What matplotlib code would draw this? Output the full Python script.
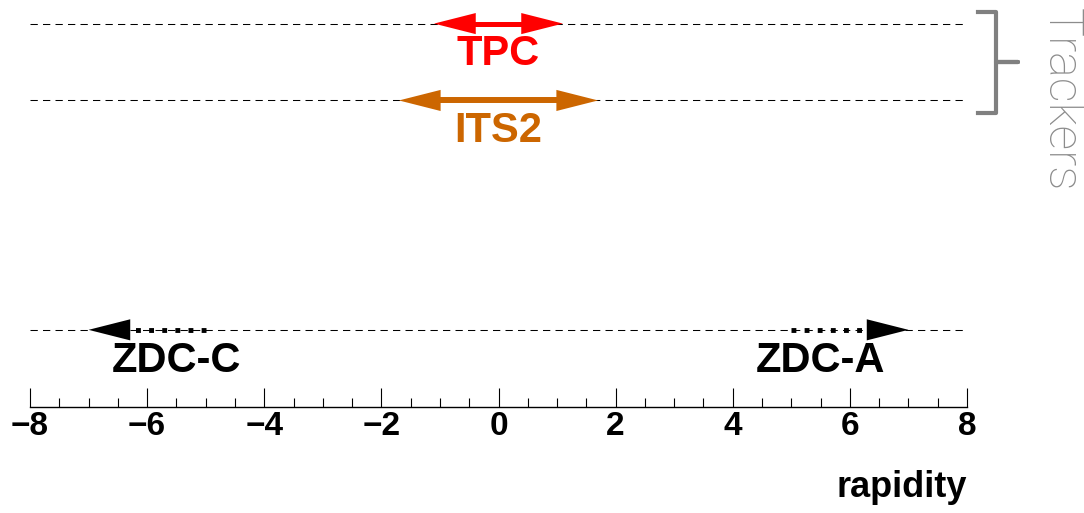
import numpy as np
import matplotlib
matplotlib.use('Agg')
import matplotlib.pyplot as plt
from matplotlib.ticker import MultipleLocator

plt.rcParams['font.family'] = ['Liberation Sans', 'DejaVu Sans']
plt.rcParams['font.weight'] = 'bold'

# rapidity coverage of each detector (ZDC: inner end -> outer tip)
detectors = ['TPC', 'ITS2', 'ZDC-C', 'ZDC-A']
eta_start = [-1.1, -1.7, -5.0, 5.0]
eta_end = [1.1, 1.7, -7.0, 7.0]
two_sided = [True, True, False, False]
label_pos = [0.0, 0.0, -5.5, 5.5]
colors = ['#ff0000', '#cc6600', 'black', 'black']
shaft_lw = [3.6, 4.3, 3.5, 3.5]

# vertical level of each row (axes fraction above the rapidity axis)
row_y = [0.942, 0.753, 0.189, 0.189]

head_len, head_w = 30, 7.6   # points

fig = plt.figure(figsize=(10.84, 5.13), dpi=100)
ax = fig.add_axes([30/1084, 106.3/513, 937/1084, 406.7/513])
ax.set_xlim(-8, 8)
ax.set_ylim(0, 1)
ax.patch.set_visible(False)
for s in ['left', 'right', 'top']:
    ax.spines[s].set_visible(False)
ax.spines['bottom'].set_linewidth(1.0)
ax.set_yticks([])
ax.xaxis.set_major_locator(MultipleLocator(2))
ax.xaxis.set_minor_locator(MultipleLocator(0.5))
ax.tick_params(axis='x', which='major', direction='in', length=13.7, width=0.8,
               labelsize=24, pad=3)
ax.tick_params(axis='x', which='minor', direction='in', length=6.8, width=0.8)

# dashed guide lines
for y in sorted(set(row_y)):
    ax.plot([-8, 8], [y, y], color='black', lw=0.75, ls=(0, (7, 5)), zorder=1)

units_per_pt = 16 / (ax.get_position().width * fig.get_figwidth() * 72)
hl = head_len * units_per_pt

for name, a, b, both, lx, c, lw, y in zip(detectors, eta_start, eta_end, two_sided,
                                           label_pos, colors, shaft_lw, row_y):
    d = np.sign(b - a)
    style = '<|-|>' if both else '-|>'
    # filled heads only, the shaft is drawn separately
    ax.annotate('', xy=(b, y), xytext=(a, y),
                arrowprops=dict(arrowstyle=f'{style},head_length={head_len},head_width={head_w}',
                                mutation_scale=1, lw=0, color=c,
                                shrinkA=0, shrinkB=0), zorder=4)
    if both:
        ax.plot([a + 0.7 * hl * d, b - 0.7 * hl * d], [y, y], color=c, lw=lw,
                solid_capstyle='butt', zorder=3)
    else:
        ax.plot([a, b - hl * d], [y, y], color=c, lw=lw, ls=(0, (1, 1.7)),
                dash_capstyle='butt', zorder=3)
    ax.annotate(name, xy=(lx, y), xytext=(0, -30), textcoords='offset points',
                ha='center', va='baseline', fontsize=30, color=c, fontweight='bold')

# brace grouping the tracking detectors
top, bot = row_y[0] + 0.029, row_y[1] - 0.031
mid = (top + bot) / 2
ax.plot([8.19, 8.495, 8.495, 8.87, 8.495, 8.495, 8.19],
        [top, top, mid, mid, mid, bot, bot],
        color='#808080', lw=3, solid_joinstyle='round', clip_on=False)

fig.text(1061/1084, 1 - 100/513, 'Trackers', rotation=270, ha='center', va='center',
         fontsize=35, color='#8c8c8c', family=['Roboto', 'Liberation Sans'],
         fontweight='light')

fig.text(967/1084, 16/513, 'rapidity', ha='right', va='baseline',
         fontsize=26, fontweight='bold')

fig.savefig('out.png', dpi=100)
